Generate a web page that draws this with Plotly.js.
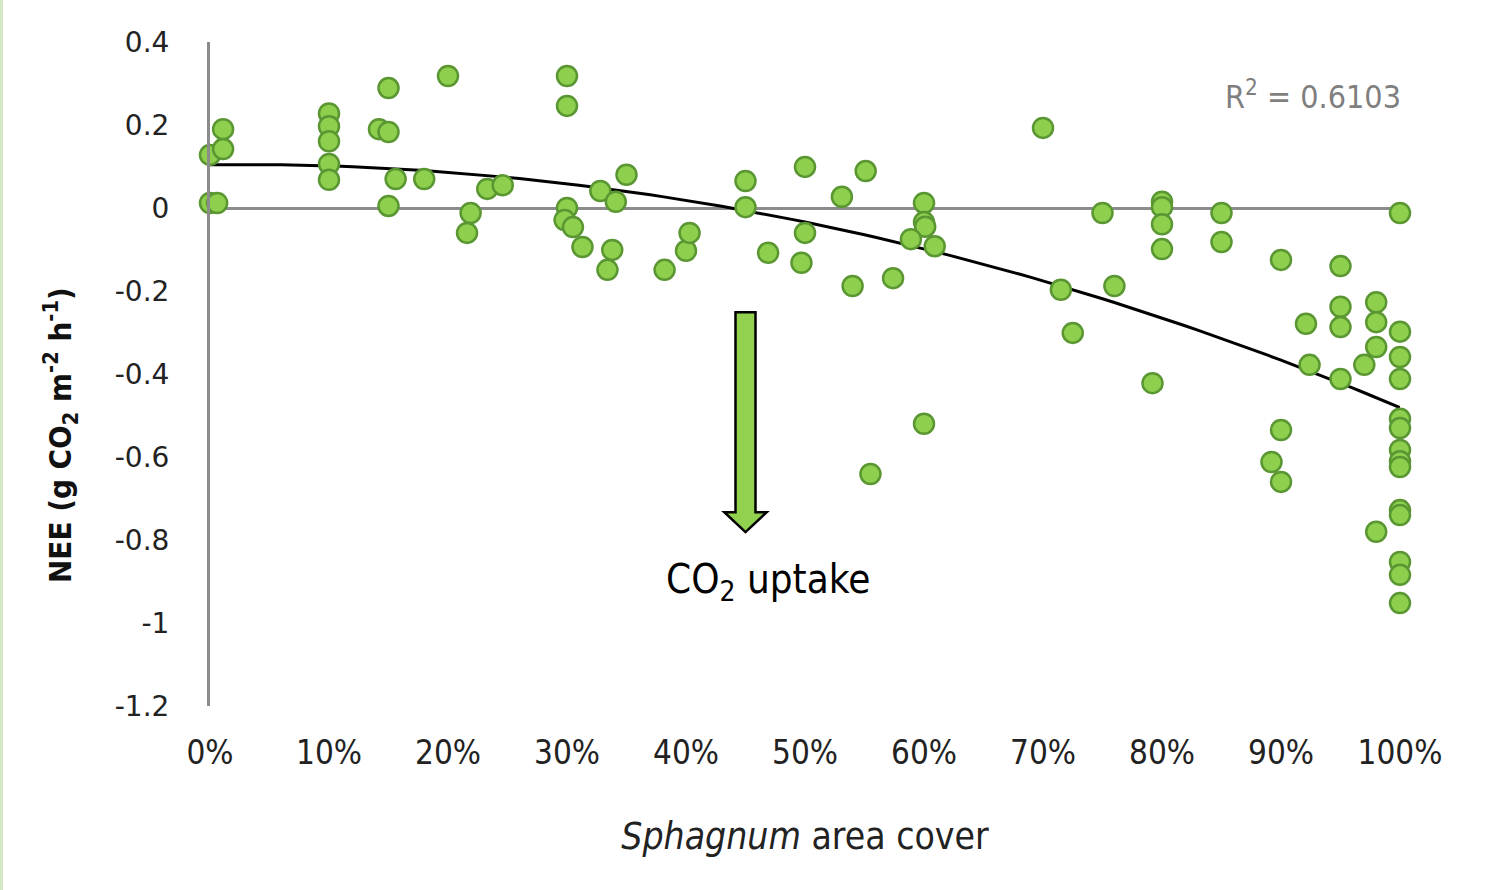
<!DOCTYPE html>
<html>
<head>
<meta charset="utf-8">
<script src="https://cdn.plot.ly/plotly-3.0.1.min.js"></script>
<style>
html,body{margin:0;padding:0;background:#fff;}
#chart{width:1486px;height:890px;}
</style>
</head>
<body>
<div id="chart"></div>
<script>
// Sphagnum area cover (fraction) and NEE (g CO2 m-2 h-1)
const cover = [
  0.000, 0.000, 0.006, 0.011, 0.011,
  0.100, 0.100, 0.100, 0.100, 0.100,
  0.142, 0.150, 0.150, 0.150, 0.156, 0.180,
  0.200, 0.219, 0.216, 0.233, 0.246,
  0.300, 0.300, 0.300, 0.298, 0.305, 0.313,
  0.328, 0.341, 0.350, 0.338, 0.334,
  0.382, 0.400, 0.403,
  0.450, 0.450, 0.469,
  0.500, 0.500, 0.497, 0.531, 0.551, 0.540, 0.555, 0.574,
  0.600, 0.600, 0.601, 0.589, 0.609, 0.600,
  0.700, 0.715, 0.725, 0.750, 0.760,
  0.800, 0.800, 0.800, 0.800, 0.792,
  0.850, 0.850,
  0.900, 0.900, 0.892, 0.900, 0.921, 0.924,
  0.950, 0.950, 0.950, 0.950,
  0.980, 0.980, 0.980, 0.970, 0.980,
  1.000, 1.000, 1.000, 1.000, 1.000, 1.000, 1.000, 1.000, 1.000,
  1.000, 1.000, 1.000, 1.000, 1.000
];
const nee = [
  0.128, 0.012, 0.012, 0.190, 0.142,
  0.228, 0.197, 0.161, 0.106, 0.068,
  0.190, 0.183, 0.289, 0.005, 0.070, 0.070,
  0.318, -0.012, -0.060, 0.046, 0.055,
  0.318, 0.246, 0.000, -0.029, -0.046, -0.094,
  0.041, 0.015, 0.080, -0.101, -0.149,
  -0.149, -0.103, -0.060,
  0.065, 0.002, -0.108,
  0.099, -0.060, -0.132, 0.027, 0.089, -0.188, -0.641, -0.169,
  0.012, -0.034, -0.045, -0.075, -0.092, -0.520,
  0.193, -0.197, -0.301, -0.012, -0.188,
  0.015, 0.002, -0.039, -0.099, -0.422,
  -0.012, -0.082,
  -0.125, -0.535, -0.612, -0.660, -0.279, -0.378,
  -0.140, -0.238, -0.287, -0.412,
  -0.227, -0.275, -0.335, -0.378, -0.780,
  -0.012, -0.298, -0.359, -0.412, -0.508, -0.530, -0.583, -0.610, -0.624,
  -0.728, -0.740, -0.853, -0.884, -0.952
];
const xTickVals = [0, 0.1, 0.2, 0.3, 0.4, 0.5, 0.6, 0.7, 0.8, 0.9, 1.0];
const xTickText = ['0%', '10%', '20%', '30%', '40%', '50%', '60%', '70%', '80%', '90%', '100%'];
const yTickVals = [0.4, 0.2, 0, -0.2, -0.4, -0.6, -0.8, -1, -1.2];
const yTickText = ['0.4', '0.2', '0', '-0.2', '-0.4', '-0.6', '-0.8', '-1', '-1.2'];
const r2Label = 'R<sup>2</sup> = 0.6103';

// Second-order polynomial least-squares fit of the data (Excel trendline)
function polyFit2(xs, ys) {
  let S = [0,0,0,0,0], T = [0,0,0];
  for (let i = 0; i < xs.length; i++) {
    const x = xs[i], y = ys[i];
    let p = 1;
    for (let k = 0; k < 5; k++) { S[k] += p; if (k < 3) T[k] += p * y; p *= x; }
  }
  const A = [[S[0],S[1],S[2],T[0]],[S[1],S[2],S[3],T[1]],[S[2],S[3],S[4],T[2]]];
  for (let i = 0; i < 3; i++) {
    for (let j = i + 1; j < 3; j++) {
      const f = A[j][i] / A[i][i];
      for (let k = i; k < 4; k++) A[j][k] -= f * A[i][k];
    }
  }
  const c = [0,0,0];
  for (let i = 2; i >= 0; i--) {
    let s = A[i][3];
    for (let k = i + 1; k < 3; k++) s -= A[i][k] * c[k];
    c[i] = s / A[i][i];
  }
  return c;
}
const coef = polyFit2(cover, nee);
const fitX = [], fitY = [];
for (let i = 0; i <= 100; i++) {
  const x = i / 100;
  fitX.push(x);
  fitY.push(coef[0] + coef[1] * x + coef[2] * x * x);
}

const traces = [
  {
    type: 'scatter', mode: 'lines', x: fitX, y: fitY,
    line: {color: '#000000', width: 3}, hoverinfo: 'skip', cliponaxis: false
  },
  {
    type: 'scatter', mode: 'markers', x: cover, y: nee,
    marker: {size: 20, color: '#8ed04e', line: {color: '#5a9632', width: 2.5}},
    cliponaxis: false
  }
];

// arrow geometry (in data units)
const ax = 0.45, ayTop = -0.251, ayNeck = -0.733, ayTip = -0.781, sw = 0.0084, hw = 0.0178;
const arrowPath = `M ${ax-sw},${ayTop} L ${ax+sw},${ayTop} L ${ax+sw},${ayNeck} L ${ax+hw},${ayNeck} L ${ax},${ayTip} L ${ax-hw},${ayNeck} L ${ax-sw},${ayNeck} Z`;

const narrow = 'DejaVu Sans Condensed, Liberation Sans Narrow, sans-serif';

const layout = {
  width: 1486, height: 890,
  margin: {l: 210, r: 86, t: 42, b: 184},
  paper_bgcolor: '#ffffff', plot_bgcolor: '#ffffff',
  showlegend: false,
  xaxis: {
    range: [0, 1], tickvals: xTickVals, ticktext: xTickText,
    showgrid: false, zeroline: false, showline: false, ticks: '',
    tickfont: {family: narrow, size: 33, color: '#222'},
    ticklabelstandoff: 24,
    title: {text: '<i>Sphagnum</i> area cover', font: {family: narrow, size: 37, color: '#222'}, standoff: 52},
    fixedrange: true
  },
  yaxis: {
    range: [-1.2, 0.4], tickvals: yTickVals, ticktext: yTickText,
    showgrid: false, zeroline: true, zerolinecolor: '#8c8c8c', zerolinewidth: 3,
    showline: true, linecolor: '#8c8c8c', linewidth: 3, ticks: '',
    tickfont: {family: 'DejaVu Sans, sans-serif', size: 28, color: '#222'},
    ticklabelstandoff: 32,
    fixedrange: true
  },
  shapes: [
    {type: 'path', xref: 'x', yref: 'y', path: arrowPath, fillcolor: '#92d050', line: {color: '#000000', width: 2.5}, layer: 'above'},
    {type: 'rect', xref: 'paper', yref: 'paper', x0: -210/1190, x1: -207/1190, y0: -184/664, y1: 1 + 42/664, fillcolor: '#d3e8c4', line: {width: 0}, layer: 'below'}
  ],
  annotations: [
    {xref: 'paper', yref: 'paper', x: (1313 - 210) / 1190, y: (706 - 95) / 664, xanchor: 'center', yanchor: 'middle',
     text: r2Label, showarrow: false,
     font: {family: narrow, size: 32, color: '#7f7f7f'}},
    {xref: 'x', yref: 'y', x: 0.469, y: -0.902, xanchor: 'center', yanchor: 'middle', text: 'CO<sub>2</sub> uptake', showarrow: false,
     font: {family: narrow, size: 40, color: '#000'}},
    {xref: 'paper', yref: 'paper', x: (60 - 210) / 1190, y: (706 - 435) / 664, xanchor: 'center', yanchor: 'middle', textangle: -90,
     text: '<b>NEE (g CO<sub>2</sub> m<sup>-2</sup> h<sup>-1</sup>)</b>', showarrow: false,
     font: {family: narrow, size: 31, color: '#111'}}
  ]
};

Plotly.newPlot('chart', traces, layout, {displayModeBar: false, staticPlot: true});
</script>
</body>
</html>
